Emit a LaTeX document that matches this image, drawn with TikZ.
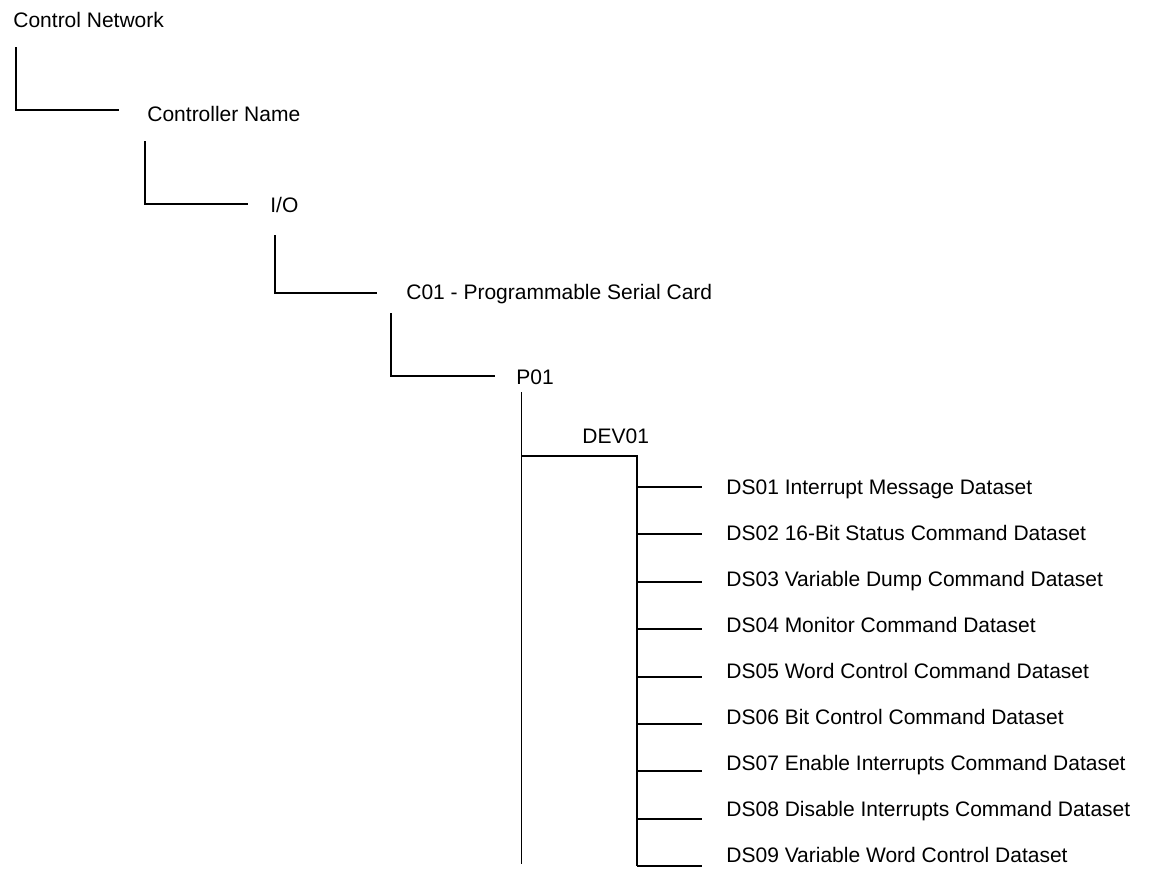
\documentclass[tikz,border=0pt]{standalone}
\usepackage{fontspec}
\setmainfont{Liberation Sans}
\usetikzlibrary{positioning}

\begin{document}
\begin{tikzpicture}[
  x=0.5pt,y=-0.5pt,
  lbl/.style={anchor=base west,inner sep=0pt,font=\fontsize{10.5}{12.6}\selectfont},
  link/.style={line width=1pt},
  trunk/.style={line width=0.5pt}]
\useasboundingbox (0,0) rectangle (1149,869);
% tree levels
\node[lbl] (net) at (13,27) {Control Network};
\node[lbl] (ctrl) at (147,121) {Controller Name};
\node[lbl] (io) at (270,212) {I/O};
\node[lbl] (card) at (406,299) {C01 - Programmable Serial Card};
\node[lbl] (port) at (516,384) {P01};
\node[lbl] (dev) at (582,443) {DEV01};
% elbow ends
\coordinate (netdrop) at (16,47);
\coordinate (ctrlend) at (119,110);
\coordinate (ctrldrop) at (145,141);
\coordinate (ioend) at (248,204);
\coordinate (iodrop) at (275,235);
\coordinate (cardend) at (377,293);
\coordinate (carddrop) at (391,313);
\coordinate (portend) at (495,376);
\coordinate (portdrop) at (521,392);
\coordinate (portfoot) at (521,864);
\coordinate (devcorner) at (521,456);
\coordinate (devbus) at (637,456);
\coordinate (devfoot) at (637,866);
\draw[link] (netdrop) |- (ctrlend);
\draw[link] (ctrldrop) |- (ioend);
\draw[link] (iodrop) |- (cardend);
\draw[link] (carddrop) |- (portend);
\draw[trunk] (portdrop) -- (portfoot);
\draw[link] (devcorner) -- (devbus) -- (devfoot);
% datasets
\foreach \i/\txt in {1/DS01 Interrupt Message Dataset,
                     2/DS02 16-Bit Status Command Dataset,
                     3/DS03 Variable Dump Command Dataset,
                     4/DS04 Monitor Command Dataset,
                     5/DS05 Word Control Command Dataset,
                     6/DS06 Bit Control Command Dataset,
                     7/DS07 Enable Interrupts Command Dataset,
                     8/DS08 Disable Interrupts Command Dataset,
                     9/DS09 Variable Word Control Dataset} {
  \node[lbl] (ds\i) at (726,{494+46*(\i-1)}) {\txt};
  \coordinate (tap\i) at (637,{487+round(47.4*(\i-1))});
  \coordinate (stub\i) at (702,{487+round(47.4*(\i-1))});
  \draw[link] (tap\i) -- (stub\i);
}
\end{tikzpicture}
\end{document}
